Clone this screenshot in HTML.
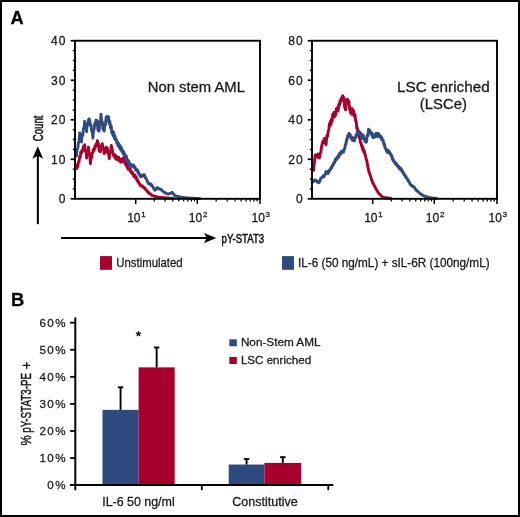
<!DOCTYPE html>
<html><head><meta charset="utf-8"><style>
html,body{margin:0;padding:0;background:#fff;width:520px;height:517px;overflow:hidden}
svg{display:block;font-family:"Liberation Sans", sans-serif;will-change:transform}
text{stroke:#1a1a1a;stroke-width:0.28px}
</style></head><body>
<svg width="520" height="517" viewBox="0 0 520 517">
<rect width="520" height="517" fill="#fff"/>
<text x="10.5" y="23.9" font-size="18.2" font-weight="bold" fill="#000">A</text>
<polyline points="76.8,168.5 77.3,165.0 77.8,166.9 78.4,162.0 79.0,161.6 79.7,156.5 80.3,157.1 80.9,151.6 81.5,152.9 82.2,150.0 82.8,151.3 83.4,146.3 84.1,148.6 84.7,144.7 85.3,150.6 86.0,151.2 86.6,158.1 87.2,151.6 87.9,153.3 88.5,147.1 89.1,152.9 89.8,155.4 90.4,163.6 91.0,157.9 91.7,157.5 92.3,152.6 92.9,152.1 93.5,149.3 94.2,150.4 94.8,146.2 95.4,147.5 96.0,144.1 96.7,144.6 97.3,140.7 97.9,141.9 98.5,144.2 99.2,151.1 99.8,151.1 100.4,151.7 101.1,146.0 101.7,146.6 102.3,143.6 103.0,148.5 103.6,148.4 104.2,153.5 104.8,148.6 105.5,152.1 106.1,147.3 106.7,149.9 107.3,148.0 108.0,153.3 108.6,152.6 109.2,158.7 109.9,151.1 110.6,151.8 111.3,145.4 111.9,149.7 112.5,150.2 113.2,155.4 113.8,154.0 114.4,156.8 115.0,155.0 115.7,159.0 116.3,156.0 116.9,159.3 117.5,157.1 118.2,160.1 118.8,157.1 119.4,161.0 120.0,159.2 120.7,162.2 121.3,161.1 121.9,161.5 122.5,158.6 123.2,161.9 123.8,157.4 124.5,161.7 125.1,161.4 125.8,164.9 126.4,163.4 127.1,167.6 127.7,165.7 128.3,169.3 129.0,167.8 129.7,170.5 130.3,168.9 131.0,172.5 131.7,171.6 132.3,173.8 132.9,172.9 133.5,175.9 134.0,174.9 134.6,177.0 135.2,175.4 135.8,178.3 136.4,177.3 136.9,180.3 137.5,179.7 138.1,182.1 138.7,182.0 139.2,183.8 139.8,183.9 140.4,185.5 140.9,185.1 141.5,186.2 142.1,185.7 142.7,186.9 143.2,186.6 143.8,187.7 144.4,187.5 145.0,189.0 145.6,189.0 146.1,190.1 146.7,190.5 147.3,191.5 147.9,191.7 148.5,192.8 149.0,192.7 149.6,193.7 150.2,193.7 150.8,194.5 151.3,194.7 151.9,195.5 152.5,195.5 153.1,195.8 153.7,195.9 154.3,196.2 154.9,196.2 155.5,196.5 156.1,196.6 156.7,196.9 157.3,197.0 157.9,197.1 158.5,197.1 159.1,197.2 159.7,197.3 160.3,197.4 161.0,197.4 161.6,197.5 162.2,197.5 162.8,197.7 163.4,197.7 164.0,197.8 164.6,197.8 165.2,197.9 165.8,197.8 166.4,198.0 167.0,197.9 167.6,198.0 168.2,198.0 168.8,198.1 169.3,198.1 169.9,198.1 170.5,198.1 171.1,198.2 171.7,198.2 172.3,198.3 172.9,198.2 173.5,198.3" fill="none" stroke="#a8002c" stroke-width="2.9" stroke-linejoin="round" stroke-linecap="round"/>
<polyline points="76.5,155.9 77.1,149.5 77.8,148.0 78.4,142.7 79.0,141.6 79.7,133.0 80.3,138.9 80.9,137.3 81.5,142.0 82.1,134.8 82.8,135.1 83.4,128.7 84.1,127.7 84.7,121.1 85.3,127.0 86.0,123.9 86.6,131.7 87.2,124.4 87.8,125.2 88.5,119.7 89.1,118.9 89.7,120.3 90.4,125.3 91.0,125.1 91.6,131.2 92.3,130.4 92.9,138.1 93.5,130.3 94.2,129.1 94.8,123.2 95.4,123.7 96.0,120.0 96.6,121.2 97.2,120.7 97.9,129.9 98.5,131.0 99.1,130.9 99.8,122.0 100.4,123.0 101.0,114.2 101.7,122.9 102.3,121.7 102.9,129.2 103.6,128.5 104.2,131.2 104.8,124.4 105.5,124.7 106.1,117.2 106.7,120.4 107.4,116.3 108.0,119.2 108.6,117.0 109.2,123.7 109.9,121.7 110.5,127.8 111.2,125.8 111.8,133.2 112.5,131.0 113.1,135.8 113.8,132.5 114.4,138.6 115.0,136.1 115.6,140.0 116.2,139.0 116.9,143.4 117.5,141.9 118.1,145.9 118.8,143.6 119.4,147.8 120.0,145.5 120.7,149.9 121.3,147.3 121.9,151.6 122.6,150.2 123.2,153.9 123.8,152.0 124.5,155.2 125.1,154.6 125.7,157.7 126.3,156.1 127.0,160.3 127.6,159.9 128.2,162.7 128.8,160.9 129.5,164.6 130.1,163.6 130.7,165.7 131.4,164.6 132.0,166.4 132.6,165.1 133.3,166.7 133.9,165.3 134.5,167.8 135.2,167.3 135.8,170.1 136.5,169.2 137.1,171.0 137.7,170.4 138.2,173.1 138.8,172.6 139.4,174.7 139.9,175.0 140.5,176.8 141.1,175.6 141.6,176.4 142.2,175.0 142.8,176.0 143.4,174.8 143.9,175.6 144.5,174.8 145.1,177.3 145.6,177.4 146.2,179.2 146.8,179.5 147.3,181.8 147.9,182.4 148.5,183.7 149.0,183.2 149.6,183.9 150.2,183.8 150.8,185.0 151.3,184.4 151.9,185.5 152.6,186.2 153.2,187.8 153.9,188.6 154.6,190.3 155.1,189.3 155.7,189.6 156.2,188.4 156.8,188.8 157.3,187.6 157.9,188.5 158.4,188.3 159.0,189.0 159.6,188.7 160.1,189.2 160.7,189.1 161.3,190.1 161.8,190.2 162.4,191.0 163.0,191.1 163.6,191.9 164.1,192.1 164.7,193.0 165.3,192.8 165.8,193.3 166.4,193.2 167.0,193.6 167.5,193.6 168.1,194.1 168.7,193.8 169.2,193.7 169.8,193.4 170.4,193.3 171.0,192.9 171.5,193.0 172.1,192.4 172.7,193.5 173.2,193.6 173.8,194.4 174.4,194.8 174.9,195.5 175.5,195.9 176.1,196.2 176.7,196.2 177.3,196.5 177.8,196.5 178.4,196.7 179.0,196.7 179.6,196.9 180.2,197.0 180.8,197.1 181.4,197.2 182.0,197.3 182.6,197.3 183.2,197.5 183.8,197.5 184.4,197.6 185.0,197.7 185.6,197.8 186.2,197.8 186.8,197.9 187.4,197.9 188.0,198.0 188.6,198.0 189.3,198.1 189.9,198.1 190.5,198.2 191.1,198.2 191.7,198.3 192.3,198.3 192.9,198.3 193.5,198.3 194.1,198.4 194.7,198.4 195.3,198.4 195.9,198.4 196.4,198.5 197.0,198.5 197.6,198.5 198.2,198.5 198.8,198.6 199.4,198.6 200.0,198.6" fill="none" stroke="#2f4a7f" stroke-width="2.9" stroke-linejoin="round" stroke-linecap="round"/>
<polyline points="313.6,170.4 313.9,165.8 314.5,162.0 315.2,155.0 315.9,157.1 316.5,155.4 317.1,156.0 317.8,154.1 318.4,157.6 318.9,157.9 319.6,157.6 320.4,152.5 320.9,152.3 321.5,146.9 322.2,144.0 322.9,141.1 323.5,142.7 324.2,138.5 324.8,142.7 325.5,140.6 326.1,144.6 326.8,135.6 327.6,136.3 328.3,130.8 328.9,129.6 329.4,123.8 329.9,126.2 330.4,121.4 331.0,124.5 331.5,119.0 332.1,121.6 332.7,114.3 333.3,116.3 333.9,112.5 334.4,117.0 335.0,112.8 335.6,115.3 336.3,108.8 336.9,110.1 337.5,107.5 338.1,111.1 338.8,104.2 339.4,105.6 340.0,100.8 340.6,102.5 341.2,98.2 341.9,100.2 342.6,95.8 343.2,98.8 343.9,97.6 344.5,106.2 345.0,108.2 345.6,109.8 346.3,100.3 346.9,103.9 347.4,99.1 348.0,101.2 348.9,101.1 349.4,109.0 349.8,106.4 350.5,112.9 351.1,111.7 351.7,114.3 352.2,108.6 352.8,110.7 353.5,110.6 354.1,116.0 355.0,114.4 355.6,121.4 356.2,121.4 356.8,128.3 357.4,128.1 358.0,132.1 358.6,131.0 359.2,137.7 359.7,137.7 360.3,142.3 360.9,142.0 361.4,145.8 361.9,145.1 362.5,149.4 363.1,147.5 363.7,151.9 364.3,150.7 364.9,154.8 365.5,155.2 366.1,159.2 366.8,160.5 367.5,165.2 368.2,168.1 368.8,171.6 369.5,172.7 370.1,175.3 370.8,176.5 371.5,179.7 372.2,180.9 372.8,183.3 373.5,183.8 374.1,185.6 374.8,186.3 375.4,188.2 376.0,188.7 376.7,190.2 377.3,190.9 378.0,192.4 378.6,193.1 379.2,193.9 379.8,194.3 380.4,195.1 381.1,195.5 381.7,196.3 382.3,196.8 382.9,197.4 383.5,197.5 384.1,197.6 384.7,197.6 385.2,197.7 385.8,197.7 386.4,197.8 387.0,197.9 387.6,198.0 388.2,198.0 388.7,198.1 389.3,198.1 389.9,198.2 390.5,198.3" fill="none" stroke="#a8002c" stroke-width="2.9" stroke-linejoin="round" stroke-linecap="round"/>
<polyline points="313.4,181.8 314.1,180.5 314.8,180.0 315.4,180.0 316.1,180.8 316.7,180.8 317.3,182.1 317.9,181.5 318.6,182.7 319.2,182.4 319.9,181.0 320.6,178.4 321.3,178.3 321.9,177.2 322.6,177.1 323.2,175.8 323.9,176.8 324.5,175.1 325.2,174.6 326.0,171.6 326.6,172.6 327.3,171.9 327.9,173.6 328.5,171.1 329.2,171.8 329.8,169.7 330.5,169.7 331.1,167.3 331.8,167.7 332.5,165.3 333.2,164.9 333.9,162.4 334.7,162.5 335.4,159.1 336.1,160.2 336.9,157.5 337.6,158.2 338.3,155.3 339.0,156.8 339.6,153.2 340.3,154.5 340.9,151.8 341.4,153.4 341.9,151.2 342.5,152.3 343.0,150.8 343.6,151.9 344.1,149.1 344.7,148.9 345.3,144.7 345.9,144.2 346.5,139.6 347.1,139.9 347.6,135.7 348.2,136.9 348.9,133.5 349.5,135.0 350.1,134.3 350.8,137.9 351.5,136.8 352.1,140.0 352.7,137.7 353.2,140.5 353.8,138.6 354.4,140.9 354.9,137.6 355.5,137.8 356.1,134.7 356.8,135.6 357.4,131.8 358.0,133.8 358.6,131.5 359.2,133.7 359.7,132.1 360.3,134.3 361.0,133.3 361.6,137.9 362.2,134.4 362.7,138.5 363.3,135.3 363.9,138.6 364.5,138.2 365.1,141.8 365.8,138.9 366.4,142.2 367.2,135.3 367.9,135.8 368.5,129.3 369.4,131.4 370.0,130.5 370.7,133.3 371.3,132.6 371.8,135.5 372.4,133.5 373.0,137.6 373.7,137.3 374.4,137.1 375.0,134.9 375.6,136.8 376.1,133.3 376.7,134.8 377.3,133.5 377.9,136.5 378.5,133.5 379.1,136.1 379.6,135.3 380.2,136.9 380.8,136.3 381.3,139.1 381.9,137.5 382.5,140.4 383.2,140.5 383.9,144.5 384.5,144.1 385.1,148.2 385.8,148.4 386.5,151.4 387.1,149.8 387.7,152.6 388.3,150.4 388.9,152.3 389.5,151.8 390.1,154.0 390.7,153.8 391.3,156.2 391.9,155.7 392.5,159.5 393.0,158.9 393.6,161.3 394.2,161.3 394.8,163.0 395.3,162.9 395.9,164.6 396.5,163.6 397.0,165.6 397.6,165.6 398.2,167.4 398.8,166.3 399.4,168.7 400.1,167.7 400.7,169.8 401.3,168.8 401.9,171.3 402.5,170.7 403.0,173.0 403.6,173.2 404.2,174.7 404.8,174.6 405.4,177.0 406.0,176.6 406.6,178.4 407.1,178.4 407.7,180.2 408.3,180.0 408.9,182.0 409.5,182.4 410.0,184.2 410.6,184.7 411.2,185.5 411.8,185.2 412.5,186.4 413.1,186.2 413.7,187.0 414.3,187.0 414.9,188.4 415.4,188.8 416.0,190.0 416.6,190.2 417.2,191.2 417.9,191.4 418.5,192.2 419.1,192.7 419.7,193.4 420.3,193.6 421.0,194.3 421.6,194.5 422.2,195.1 422.8,195.3 423.3,195.6 423.9,195.7 424.4,196.0 425.0,196.1 425.5,196.5 426.1,196.5 426.7,196.8 427.2,196.9 427.8,197.1 428.4,197.2 429.0,197.4 429.6,197.6 430.1,197.8 430.7,197.9 431.3,198.0 431.9,198.0 432.6,198.1 433.2,198.1 433.8,198.2 434.4,198.2 435.0,198.3 435.7,198.3 436.3,198.4 436.9,198.4" fill="none" stroke="#2f4a7f" stroke-width="2.9" stroke-linejoin="round" stroke-linecap="round"/>
<rect x="75" y="40.75" width="185" height="158.05" fill="none" stroke="#000" stroke-width="1.9"/>
<line x1="70.70" y1="198.80" x2="75" y2="198.80" stroke="#000" stroke-width="1.7"/>
<line x1="72.80" y1="188.92" x2="75" y2="188.92" stroke="#000" stroke-width="1.5"/>
<line x1="72.80" y1="179.04" x2="75" y2="179.04" stroke="#000" stroke-width="1.5"/>
<line x1="72.80" y1="169.17" x2="75" y2="169.17" stroke="#000" stroke-width="1.5"/>
<line x1="70.70" y1="159.29" x2="75" y2="159.29" stroke="#000" stroke-width="1.7"/>
<line x1="72.80" y1="149.41" x2="75" y2="149.41" stroke="#000" stroke-width="1.5"/>
<line x1="72.80" y1="139.53" x2="75" y2="139.53" stroke="#000" stroke-width="1.5"/>
<line x1="72.80" y1="129.65" x2="75" y2="129.65" stroke="#000" stroke-width="1.5"/>
<line x1="70.70" y1="119.78" x2="75" y2="119.78" stroke="#000" stroke-width="1.7"/>
<line x1="72.80" y1="109.90" x2="75" y2="109.90" stroke="#000" stroke-width="1.5"/>
<line x1="72.80" y1="100.02" x2="75" y2="100.02" stroke="#000" stroke-width="1.5"/>
<line x1="72.80" y1="90.14" x2="75" y2="90.14" stroke="#000" stroke-width="1.5"/>
<line x1="70.70" y1="80.26" x2="75" y2="80.26" stroke="#000" stroke-width="1.7"/>
<line x1="72.80" y1="70.38" x2="75" y2="70.38" stroke="#000" stroke-width="1.5"/>
<line x1="72.80" y1="60.51" x2="75" y2="60.51" stroke="#000" stroke-width="1.5"/>
<line x1="72.80" y1="50.63" x2="75" y2="50.63" stroke="#000" stroke-width="1.5"/>
<line x1="70.70" y1="40.75" x2="75" y2="40.75" stroke="#000" stroke-width="1.7"/>
<text x="66.40" y="203.10" text-anchor="end" font-size="12" letter-spacing="1" fill="#1a1a1a">0</text>
<text x="66.40" y="163.59" text-anchor="end" font-size="12" letter-spacing="1" fill="#1a1a1a">10</text>
<text x="66.40" y="124.08" text-anchor="end" font-size="12" letter-spacing="1" fill="#1a1a1a">20</text>
<text x="66.40" y="84.56" text-anchor="end" font-size="12" letter-spacing="1" fill="#1a1a1a">30</text>
<text x="66.40" y="45.05" text-anchor="end" font-size="12" letter-spacing="1" fill="#1a1a1a">40</text>
<line x1="135.70" y1="198.8" x2="135.70" y2="204" stroke="#000" stroke-width="1.5"/>
<line x1="197.30" y1="198.8" x2="197.30" y2="204" stroke="#000" stroke-width="1.5"/>
<line x1="260.00" y1="198.8" x2="260.00" y2="204" stroke="#000" stroke-width="1.5"/>
<line x1="154.24" y1="198.8" x2="154.24" y2="201.4" stroke="#000" stroke-width="1.3"/>
<line x1="165.09" y1="198.8" x2="165.09" y2="201.4" stroke="#000" stroke-width="1.3"/>
<line x1="172.79" y1="198.8" x2="172.79" y2="201.4" stroke="#000" stroke-width="1.3"/>
<line x1="178.76" y1="198.8" x2="178.76" y2="201.4" stroke="#000" stroke-width="1.3"/>
<line x1="183.63" y1="198.8" x2="183.63" y2="201.4" stroke="#000" stroke-width="1.3"/>
<line x1="187.76" y1="198.8" x2="187.76" y2="201.4" stroke="#000" stroke-width="1.3"/>
<line x1="191.33" y1="198.8" x2="191.33" y2="201.4" stroke="#000" stroke-width="1.3"/>
<line x1="194.48" y1="198.8" x2="194.48" y2="201.4" stroke="#000" stroke-width="1.3"/>
<line x1="216.17" y1="198.8" x2="216.17" y2="201.4" stroke="#000" stroke-width="1.3"/>
<line x1="227.22" y1="198.8" x2="227.22" y2="201.4" stroke="#000" stroke-width="1.3"/>
<line x1="235.05" y1="198.8" x2="235.05" y2="201.4" stroke="#000" stroke-width="1.3"/>
<line x1="241.13" y1="198.8" x2="241.13" y2="201.4" stroke="#000" stroke-width="1.3"/>
<line x1="246.09" y1="198.8" x2="246.09" y2="201.4" stroke="#000" stroke-width="1.3"/>
<line x1="250.29" y1="198.8" x2="250.29" y2="201.4" stroke="#000" stroke-width="1.3"/>
<line x1="253.92" y1="198.8" x2="253.92" y2="201.4" stroke="#000" stroke-width="1.3"/>
<line x1="257.13" y1="198.8" x2="257.13" y2="201.4" stroke="#000" stroke-width="1.3"/>
<text x="127.20" y="221.7" font-size="12" fill="#1a1a1a">10</text>
<text x="141.30" y="216.8" font-size="8" fill="#1a1a1a">1</text>
<text x="188.80" y="221.7" font-size="12" fill="#1a1a1a">10</text>
<text x="202.90" y="216.8" font-size="8" fill="#1a1a1a">2</text>
<text x="251.50" y="221.7" font-size="12" fill="#1a1a1a">10</text>
<text x="265.60" y="216.8" font-size="8" fill="#1a1a1a">3</text>
<rect x="312" y="40.75" width="185" height="158.05" fill="none" stroke="#000" stroke-width="1.9"/>
<line x1="307.70" y1="198.80" x2="312" y2="198.80" stroke="#000" stroke-width="1.7"/>
<line x1="309.80" y1="188.92" x2="312" y2="188.92" stroke="#000" stroke-width="1.5"/>
<line x1="309.80" y1="179.04" x2="312" y2="179.04" stroke="#000" stroke-width="1.5"/>
<line x1="309.80" y1="169.17" x2="312" y2="169.17" stroke="#000" stroke-width="1.5"/>
<line x1="307.70" y1="159.29" x2="312" y2="159.29" stroke="#000" stroke-width="1.7"/>
<line x1="309.80" y1="149.41" x2="312" y2="149.41" stroke="#000" stroke-width="1.5"/>
<line x1="309.80" y1="139.53" x2="312" y2="139.53" stroke="#000" stroke-width="1.5"/>
<line x1="309.80" y1="129.65" x2="312" y2="129.65" stroke="#000" stroke-width="1.5"/>
<line x1="307.70" y1="119.78" x2="312" y2="119.78" stroke="#000" stroke-width="1.7"/>
<line x1="309.80" y1="109.90" x2="312" y2="109.90" stroke="#000" stroke-width="1.5"/>
<line x1="309.80" y1="100.02" x2="312" y2="100.02" stroke="#000" stroke-width="1.5"/>
<line x1="309.80" y1="90.14" x2="312" y2="90.14" stroke="#000" stroke-width="1.5"/>
<line x1="307.70" y1="80.26" x2="312" y2="80.26" stroke="#000" stroke-width="1.7"/>
<line x1="309.80" y1="70.38" x2="312" y2="70.38" stroke="#000" stroke-width="1.5"/>
<line x1="309.80" y1="60.51" x2="312" y2="60.51" stroke="#000" stroke-width="1.5"/>
<line x1="309.80" y1="50.63" x2="312" y2="50.63" stroke="#000" stroke-width="1.5"/>
<line x1="307.70" y1="40.75" x2="312" y2="40.75" stroke="#000" stroke-width="1.7"/>
<text x="303.60" y="203.10" text-anchor="end" font-size="12" letter-spacing="1" fill="#1a1a1a">0</text>
<text x="303.60" y="163.59" text-anchor="end" font-size="12" letter-spacing="1" fill="#1a1a1a">20</text>
<text x="303.60" y="124.08" text-anchor="end" font-size="12" letter-spacing="1" fill="#1a1a1a">40</text>
<text x="303.60" y="84.56" text-anchor="end" font-size="12" letter-spacing="1" fill="#1a1a1a">60</text>
<text x="303.60" y="45.05" text-anchor="end" font-size="12" letter-spacing="1" fill="#1a1a1a">80</text>
<line x1="372.70" y1="198.8" x2="372.70" y2="204" stroke="#000" stroke-width="1.5"/>
<line x1="434.30" y1="198.8" x2="434.30" y2="204" stroke="#000" stroke-width="1.5"/>
<line x1="497.00" y1="198.8" x2="497.00" y2="204" stroke="#000" stroke-width="1.5"/>
<line x1="391.24" y1="198.8" x2="391.24" y2="201.4" stroke="#000" stroke-width="1.3"/>
<line x1="402.09" y1="198.8" x2="402.09" y2="201.4" stroke="#000" stroke-width="1.3"/>
<line x1="409.79" y1="198.8" x2="409.79" y2="201.4" stroke="#000" stroke-width="1.3"/>
<line x1="415.76" y1="198.8" x2="415.76" y2="201.4" stroke="#000" stroke-width="1.3"/>
<line x1="420.63" y1="198.8" x2="420.63" y2="201.4" stroke="#000" stroke-width="1.3"/>
<line x1="424.76" y1="198.8" x2="424.76" y2="201.4" stroke="#000" stroke-width="1.3"/>
<line x1="428.33" y1="198.8" x2="428.33" y2="201.4" stroke="#000" stroke-width="1.3"/>
<line x1="431.48" y1="198.8" x2="431.48" y2="201.4" stroke="#000" stroke-width="1.3"/>
<line x1="453.17" y1="198.8" x2="453.17" y2="201.4" stroke="#000" stroke-width="1.3"/>
<line x1="464.22" y1="198.8" x2="464.22" y2="201.4" stroke="#000" stroke-width="1.3"/>
<line x1="472.05" y1="198.8" x2="472.05" y2="201.4" stroke="#000" stroke-width="1.3"/>
<line x1="478.13" y1="198.8" x2="478.13" y2="201.4" stroke="#000" stroke-width="1.3"/>
<line x1="483.09" y1="198.8" x2="483.09" y2="201.4" stroke="#000" stroke-width="1.3"/>
<line x1="487.29" y1="198.8" x2="487.29" y2="201.4" stroke="#000" stroke-width="1.3"/>
<line x1="490.92" y1="198.8" x2="490.92" y2="201.4" stroke="#000" stroke-width="1.3"/>
<line x1="494.13" y1="198.8" x2="494.13" y2="201.4" stroke="#000" stroke-width="1.3"/>
<text x="364.20" y="221.7" font-size="12" fill="#1a1a1a">10</text>
<text x="378.30" y="216.8" font-size="8" fill="#1a1a1a">1</text>
<text x="425.80" y="221.7" font-size="12" fill="#1a1a1a">10</text>
<text x="439.90" y="216.8" font-size="8" fill="#1a1a1a">2</text>
<text x="488.50" y="221.7" font-size="12" fill="#1a1a1a">10</text>
<text x="502.60" y="216.8" font-size="8" fill="#1a1a1a">3</text>
<text x="147.7" y="91.9" font-size="14.4" fill="#1a1a1a" textLength="97.2" lengthAdjust="spacingAndGlyphs">Non stem AML</text>
<text x="397.1" y="92" font-size="14.5" fill="#1a1a1a" textLength="92.6" lengthAdjust="spacingAndGlyphs">LSC enriched</text>
<text x="419.8" y="109.3" font-size="14.5" fill="#1a1a1a" textLength="47.1" lengthAdjust="spacingAndGlyphs">(LSCe)</text>
<text transform="translate(42.7,141.2) rotate(-90)" x="0" y="0" font-size="15.3" fill="#111" style="stroke:#111;stroke-width:0.55px" textLength="25.6" lengthAdjust="spacingAndGlyphs">Count</text>
<line x1="37.85" y1="224.2" x2="37.85" y2="154" stroke="#000" stroke-width="2"/>
<polygon points="37.8,146.2 43.1,158.7 37.8,155.7 32.4,158.7" fill="#000"/>
<line x1="61" y1="237.95" x2="208" y2="237.95" stroke="#000" stroke-width="1.9"/>
<polygon points="216.2,238 204,232.9 206.6,238 204,243.2" fill="#000"/>
<text x="221.6" y="242.5" font-size="13.2" fill="#111" style="stroke:#111;stroke-width:0.55px" textLength="42.6" lengthAdjust="spacingAndGlyphs">pY-STAT3</text>
<rect x="100" y="256.1" width="12" height="13.7" fill="#a8002c"/>
<text x="116.3" y="266.8" font-size="12.2" fill="#1a1a1a" textLength="66.4" lengthAdjust="spacingAndGlyphs">Unstimulated</text>
<rect x="282" y="256.1" width="12" height="13.7" fill="#2f4a7f"/>
<text x="298" y="266.7" font-size="12.2" fill="#1a1a1a" textLength="191.6" lengthAdjust="spacingAndGlyphs">IL-6 (50 ng/mL) + sIL-6R (100ng/mL)</text>
<text x="11.1" y="306.1" font-size="18.4" font-weight="bold" fill="#000">B</text>
<rect x="102.5" y="409.85" width="36.10" height="75.25" fill="#2f4a7f"/>
<line x1="120.55" y1="409.85" x2="120.55" y2="387.12" stroke="#000" stroke-width="1.9"/>
<line x1="117.85" y1="387.32" x2="123.25" y2="387.32" stroke="#000" stroke-width="1.9"/>
<rect x="138.6" y="367.36" width="36.10" height="117.74" fill="#a8002c"/>
<line x1="156.65" y1="367.36" x2="156.65" y2="347.33" stroke="#000" stroke-width="1.9"/>
<line x1="153.95" y1="347.53" x2="159.35" y2="347.53" stroke="#000" stroke-width="1.9"/>
<rect x="228.7" y="464.53" width="35.70" height="20.57" fill="#2f4a7f"/>
<line x1="246.55" y1="464.53" x2="246.55" y2="458.85" stroke="#000" stroke-width="1.9"/>
<line x1="243.85" y1="459.05" x2="249.25" y2="459.05" stroke="#000" stroke-width="1.9"/>
<rect x="264.4" y="462.91" width="36.80" height="22.19" fill="#a8002c"/>
<line x1="282.80" y1="462.91" x2="282.80" y2="456.95" stroke="#000" stroke-width="1.9"/>
<line x1="280.10" y1="457.15" x2="285.50" y2="457.15" stroke="#000" stroke-width="1.9"/>
<line x1="75.3" y1="317.5" x2="75.3" y2="490.2" stroke="#000" stroke-width="2"/>
<line x1="70" y1="485.1" x2="333.3" y2="485.1" stroke="#000" stroke-width="2"/>
<line x1="70.1" y1="485.10" x2="75.3" y2="485.10" stroke="#000" stroke-width="1.8"/>
<text x="67.1" y="489.20" text-anchor="end" font-size="11.6" letter-spacing="1.5" fill="#1a1a1a">0%</text>
<line x1="70.1" y1="458.03" x2="75.3" y2="458.03" stroke="#000" stroke-width="1.8"/>
<text x="67.1" y="462.13" text-anchor="end" font-size="11.6" letter-spacing="1.5" fill="#1a1a1a">10%</text>
<line x1="70.1" y1="430.97" x2="75.3" y2="430.97" stroke="#000" stroke-width="1.8"/>
<text x="67.1" y="435.07" text-anchor="end" font-size="11.6" letter-spacing="1.5" fill="#1a1a1a">20%</text>
<line x1="70.1" y1="403.90" x2="75.3" y2="403.90" stroke="#000" stroke-width="1.8"/>
<text x="67.1" y="408.00" text-anchor="end" font-size="11.6" letter-spacing="1.5" fill="#1a1a1a">30%</text>
<line x1="70.1" y1="376.83" x2="75.3" y2="376.83" stroke="#000" stroke-width="1.8"/>
<text x="67.1" y="380.93" text-anchor="end" font-size="11.6" letter-spacing="1.5" fill="#1a1a1a">40%</text>
<line x1="70.1" y1="349.77" x2="75.3" y2="349.77" stroke="#000" stroke-width="1.8"/>
<text x="67.1" y="353.87" text-anchor="end" font-size="11.6" letter-spacing="1.5" fill="#1a1a1a">50%</text>
<line x1="70.1" y1="322.70" x2="75.3" y2="322.70" stroke="#000" stroke-width="1.8"/>
<text x="67.1" y="326.80" text-anchor="end" font-size="11.6" letter-spacing="1.5" fill="#1a1a1a">60%</text>
<line x1="201.8" y1="485.1" x2="201.8" y2="490.2" stroke="#000" stroke-width="1.8"/>
<line x1="328.3" y1="485.1" x2="328.3" y2="490.2" stroke="#000" stroke-width="1.8"/>
<path d="M138.45,333.90L138.45,331.70M138.45,333.90L140.54,333.22M138.45,333.90L139.74,335.68M138.45,333.90L137.16,335.68M138.45,333.90L136.36,333.22" stroke="#000" stroke-width="1.3" stroke-linecap="round" fill="none"/>
<text x="102.2" y="506.3" font-size="12" fill="#1a1a1a" textLength="72.5" lengthAdjust="spacingAndGlyphs">IL-6 50 ng/ml</text>
<text x="232.3" y="505.8" font-size="12" fill="#1a1a1a" textLength="65.5" lengthAdjust="spacingAndGlyphs">Constitutive</text>
<rect x="229.3" y="339.3" width="7.5" height="7" fill="#2f4a7f"/>
<rect x="229.3" y="357" width="7.5" height="7" fill="#a8002c"/>
<text x="240.9" y="346.4" font-size="11.3" fill="#1a1a1a" textLength="79.6" lengthAdjust="spacingAndGlyphs">Non-Stem AML</text>
<text x="240.9" y="364.1" font-size="11.3" fill="#1a1a1a" textLength="70.2" lengthAdjust="spacingAndGlyphs">LSC enriched</text>
<text transform="translate(30.8,445.4) rotate(-90)" x="0" y="0" font-size="13.8" fill="#111" style="stroke:#111;stroke-width:0.4px" textLength="10.2" lengthAdjust="spacingAndGlyphs">%</text>
<text transform="translate(30.8,432.8) rotate(-90)" x="0" y="0" font-size="13.8" fill="#111" style="stroke:#111;stroke-width:0.4px" textLength="59.8" lengthAdjust="spacingAndGlyphs">pY-STAT3-PE</text>
<text transform="translate(30.8,369.5) rotate(-90)" x="0" y="0" font-size="13.8" fill="#111" style="stroke:#111;stroke-width:0.3px">+</text>
<rect x="1" y="1" width="518" height="515" fill="none" stroke="#000" stroke-width="2"/>
</svg>
</body></html>
